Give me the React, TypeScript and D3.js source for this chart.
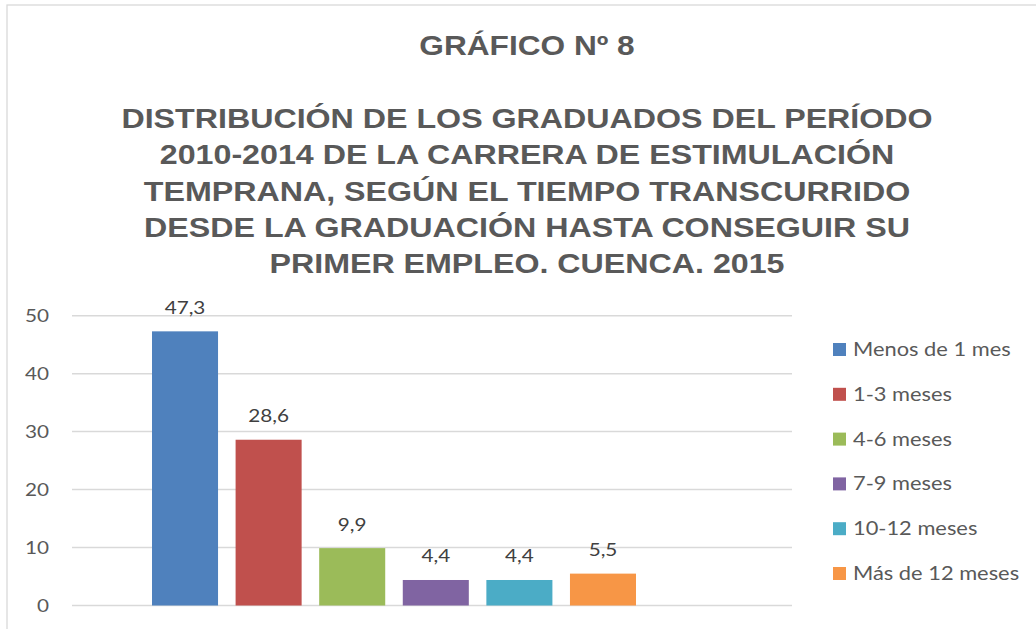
import React from 'react';
import * as d3 from 'd3';

const categories = ['Menos de 1 mes', '1-3 meses', '4-6 meses', '7-9 meses', '10-12 meses', 'Más de 12 meses'];
const values = [47.3, 28.6, 9.9, 4.4, 4.4, 5.5];
const colors = ['#4F81BD', '#C0504D', '#9BBB59', '#8064A2', '#4BACC6', '#F79646'];
const yTicks = [0, 10, 20, 30, 40, 50];
const titleTop = 'GRÁFICO Nº 8';
const titleLines = [
  'DISTRIBUCIÓN DE LOS GRADUADOS DEL PERÍODO',
  '2010-2014 DE LA CARRERA DE ESTIMULACIÓN',
  'TEMPRANA, SEGÚN EL TIEMPO TRANSCURRIDO',
  'DESDE LA GRADUACIÓN HASTA CONSEGUIR SU',
  'PRIMER EMPLEO. CUENCA. 2015',
];

const width = 1036;
const height = 629;
const plotLeft = 72;
const plotRight = 792;
// the reference picture is stretched a little horizontally
const sx = 1.15;

function SText(props: { x: number; y: number; anchor?: string; size: number; fill: string; font: string; bold?: boolean; children: React.ReactNode }) {
  return (
    <g transform={`translate(${props.x},${props.y}) scale(${sx},1)`}>
      <text x={0} y={0} textAnchor={props.anchor || 'start'} fontSize={props.size} fill={props.fill}
            fontFamily={props.font} fontWeight={props.bold ? 'bold' : 'normal'}>{props.children}</text>
    </g>
  );
}

export default function App() {
  const y = d3.scaleLinear().domain([0, 50]).range([605.5, 315.7]);
  const x = d3.scaleBand<string>().domain(categories).range([152, 636]).paddingInner(0.21);
  const fmt = (v: number) => v.toFixed(1).replace('.', ',');
  const labelFont = 'Lato, "Open Sans", sans-serif';
  const titleFont = '"Liberation Sans", Arial, sans-serif';

  return (
    <svg width={width} height={height} style={{ position: 'fixed', left: 0, top: 0 }}>
      <rect x={0} y={0} width={width} height={height} fill="#fff" />
      <rect x={7} y={5} width={width + 20} height={height + 20} fill="#fff" stroke="#D9D9D9" strokeWidth={1.3} />

      <SText x={527} y={55} anchor="middle" size={27.5} fill="#595959" font={titleFont} bold>{titleTop}</SText>
      {titleLines.map((t, i) => (
        <SText key={i} x={527} y={128 + i * 36.3} anchor="middle" size={28} fill="#595959" font={titleFont} bold>{t}</SText>
      ))}

      <g>
        {yTicks.map(t => (
          <g key={t}>
            <line x1={plotLeft} x2={plotRight} y1={y(t)} y2={y(t)} stroke="#D9D9D9" strokeWidth={1.5} />
            <SText x={49} y={y(t) + 6.5} anchor="end" size={18} fill="#595959" font={labelFont}>{t}</SText>
          </g>
        ))}
      </g>

      <g>
        {categories.map((c, i) => (
          <g key={c}>
            <rect x={x(c)} y={y(values[i])} width={x.bandwidth()} height={y(0) - y(values[i])} fill={colors[i]} />
            <SText x={(x(c) as number) + x.bandwidth() / 2} y={y(values[i]) - 17.5} anchor="middle"
                   size={18} fill="#404040" font={labelFont}>{fmt(values[i])}</SText>
          </g>
        ))}
      </g>

      <g>
        {categories.map((c, i) => (
          <g key={c} transform={`translate(833,${343 + i * 44.8})`}>
            <rect x={0} y={0} width={13} height={13} fill={colors[i]} />
            <SText x={20} y={13} size={19} fill="#595959" font={labelFont}>{c}</SText>
          </g>
        ))}
      </g>
    </svg>
  );
}
